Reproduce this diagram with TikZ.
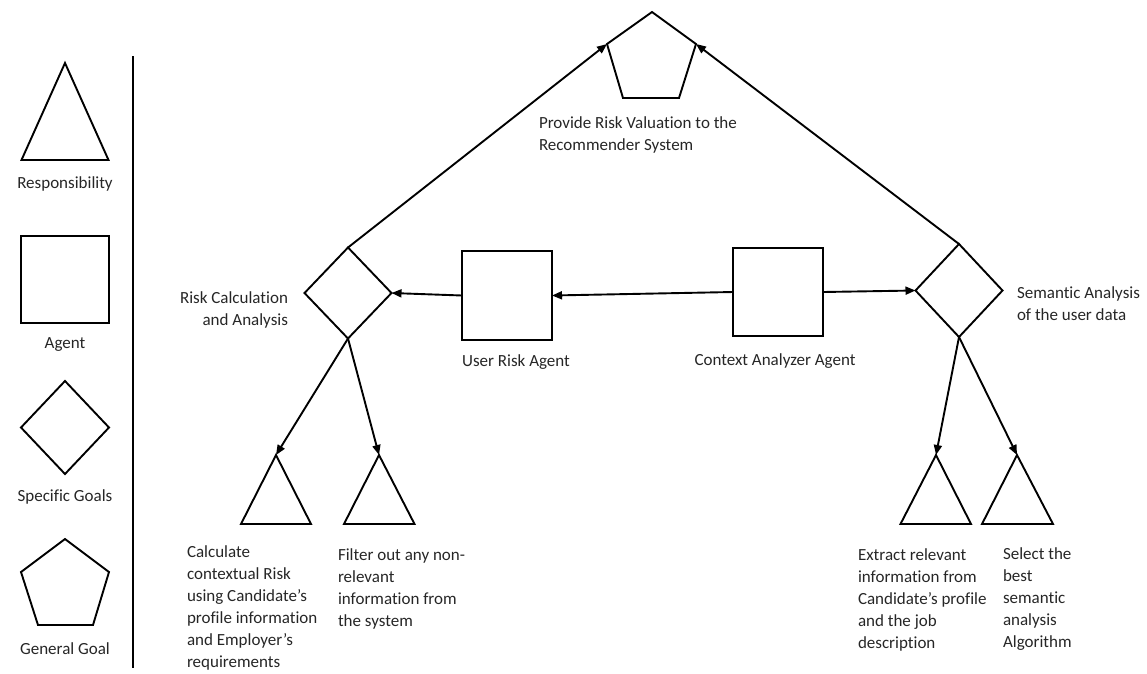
\documentclass[tikz,border=0pt]{standalone}
\usepackage{fontspec}
\setmainfont{Carlito}[Ligatures=NoCommon]
\usetikzlibrary{arrows.meta,shapes.geometric}
\begin{document}
\begin{tikzpicture}[x=1pt,y=-1pt,
  every node/.style={inner sep=0pt, outer sep=0pt},
  shp/.style={draw=black, line width=1.9pt, line join=miter},
  agentbox/.style={shp, rectangle, minimum width=90pt, minimum height=89pt},
  goalbox/.style={shp, diamond, minimum width=87pt, minimum height=91pt},
  txt/.style={font=\fontsize{17}{22}\selectfont, text=black!85},
  lbl/.style={txt, align=left, anchor=base west},
  link/.style={line width=1.9pt, -{Triangle[length=10pt,width=8pt]}}
]
\useasboundingbox (0,0) rectangle (1147,673);

% ---------- legend ----------
\draw[shp] (65,63) -- (108.5,160) -- (21.5,160) -- cycle;
\node[txt, anchor=base] (lgresp) at (65,188) {Responsibility};
\node[agentbox, minimum width=88pt, minimum height=87pt] (lgagent) at (65,279.5) {};
\node[txt, anchor=base] (lgagentlbl) at (65,348) {Agent};
\node[goalbox, minimum width=88pt, minimum height=93pt] (lggoal) at (65,427.5) {};
\node[txt, anchor=base] (lggoallbl) at (65,501) {Specific Goals};
\draw[shp] (65,539) -- (109,572) -- (93,625) -- (38,625) -- (21,572) -- cycle;
\node[txt, anchor=base] (lggen) at (65,654) {General Goal};
\coordinate (sepTop) at (133,56);
\coordinate (sepBot) at (133,668);
\draw[line width=1.9pt] (sepTop) -- (sepBot);

% ---------- general goal ----------
\coordinate (pgTop) at (652,12);
\coordinate (pgR) at (696,44);
\coordinate (pgBR) at (679,98);
\coordinate (pgBL) at (623,98);
\coordinate (pgL) at (607,44);
\draw[shp] (pgTop) -- (pgR) -- (pgBR) -- (pgBL) -- (pgL) -- cycle;
% multi-line labels are placed by the baseline of their last line
\node[lbl] (pglbl) at (539,150) {Provide Risk Valuation to the\\Recommender System};

% ---------- specific goals ----------
\node[goalbox] (riskgoal) at (348,293) {};
\node[txt, align=right, anchor=base east] (riskgoallbl) at (288,325) {Risk Calculation\\and Analysis};
\node[goalbox, minimum height=93pt] (semgoal) at (959,290.5) {};
\node[lbl] (semgoallbl) at (1017,320) {Semantic Analysis\\of the user data};

% ---------- agents ----------
\node[agentbox] (userrisk) at (507,295.5) {};
\node[txt, anchor=base] (userrisklbl) at (516,366) {User Risk Agent};
\node[agentbox, minimum height=88pt] (context) at (778,292) {};
\node[txt, anchor=base] (contextlbl) at (775,365) {Context Analyzer Agent};

% ---------- responsibilities ----------
\coordinate (r1) at (276,455);
\coordinate (r2) at (379,455);
\coordinate (r3) at (936,455);
\coordinate (r4) at (1017,455);
\draw[shp] (r1) -- (311,524) -- (241,524) -- cycle;
\draw[shp] (r2) -- (414.5,524) -- (344,524) -- cycle;
\draw[shp] (r3) -- (971,524) -- (900.5,524) -- cycle;
\draw[shp] (r4) -- (1053,524) -- (982,524) -- cycle;
\node[lbl] (r1lbl) at (187,667) {Calculate\\contextual Risk\\using Candidate’s\\profile information\\and Employer’s\\requirements};
\node[lbl] (r2lbl) at (338,626) {Filter out any non-\\relevant\\information from\\the system};
\node[lbl] (r3lbl) at (858,648) {Extract relevant\\information from\\Candidate’s profile\\and the job\\description};
\node[lbl] (r4lbl) at (1003,647) {Select the\\best\\semantic\\analysis\\Algorithm};

% ---------- connectors ----------
\draw[link] (riskgoal.north) -- (pgL);
\draw[link] (semgoal.north) -- (pgR);
\draw[link] (userrisk.west) -- (riskgoal.east);
\draw[link] (context.west) -- (userrisk.east);
\draw[link] (context.east) -- (semgoal.west);
\draw[link] (riskgoal.south) -- (r1);
\draw[link] (riskgoal.south) -- (r2);
\draw[link] (semgoal.south) -- (r3);
\draw[link] (semgoal.south) -- (r4);
\end{tikzpicture}
\end{document}
